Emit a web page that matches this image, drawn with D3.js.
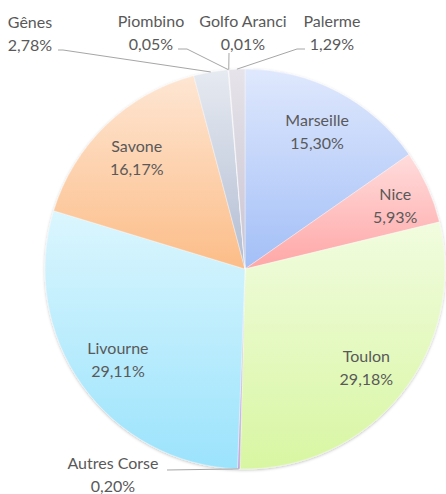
<!DOCTYPE html>
<html>
<head>
<meta charset="utf-8">
<script src="https://d3js.org/d3.v7.min.js"></script>
<style>
  body { margin: 0; background: #fff; }
  text { font-family: Lato, "Open Sans", sans-serif; font-size: 16px; fill: #595959; }
</style>
</head>
<body>
<svg id="canvas"></svg>
<script>
// data, clockwise from 12 o'clock
var ports = ["Marseille", "Nice", "Toulon", "Autres Corse", "Livourne", "Savone", "Gênes", "Piombino", "Golfo Aranci", "Palerme"];
var shares = [15.30, 5.93, 29.18, 0.20, 29.11, 16.17, 2.78, 0.05, 0.01, 1.29];
var topColors = ["#dfe8fd", "#ffdcdc", "#f1fcdf", "#d7c8ea", "#dbf6fe", "#fee6d3", "#e6eaf1", "#e8e4ec", "#e8e4ec", "#e6e3ea"];
var bottomColors = ["#a3bff7", "#ffa6a6", "#d8f6a2", "#c0a8dc", "#9be3fc", "#fcbd88", "#b2bdd3", "#cbc5d3", "#cbc5d3", "#c9c3d1"];

var width = 446, height = 494;
var cx = 245, cy = 269, radius = 200;

var svg = d3.select("#canvas").attr("width", width).attr("height", height);
var defs = svg.append("defs");

var shadow = defs.append("filter").attr("id", "shadow")
  .attr("x", "-10%").attr("y", "-10%").attr("width", "120%").attr("height", "120%");
shadow.append("feDropShadow").attr("dx", 0).attr("dy", 1).attr("stdDeviation", 1.4)
  .attr("flood-color", "#000").attr("flood-opacity", 0.25);

ports.forEach(function(p, i) {
  var g = defs.append("linearGradient").attr("id", "grad" + i)
    .attr("x1", 0).attr("y1", 0).attr("x2", 0).attr("y2", 1);
  g.append("stop").attr("offset", "0%").attr("stop-color", topColors[i]);
  g.append("stop").attr("offset", "100%").attr("stop-color", bottomColors[i]);
});

var pie = d3.pie().sort(null).value(function(d) { return d; });
var arcs = pie(shares);
var arc = d3.arc().innerRadius(0).outerRadius(radius);
var labelArc = d3.arc().innerRadius(156).outerRadius(156);

var pieG = svg.append("g").attr("transform", "translate(" + cx + "," + cy + ")");

pieG.append("g").attr("filter", "url(#shadow)")
  .selectAll("path").data(arcs).enter().append("path")
  .attr("d", arc)
  .attr("fill", function(d, i) { return "url(#grad" + i + ")"; })
  .attr("stroke", "#ffffff")
  .attr("stroke-opacity", 0.6)
  .attr("stroke-width", 0.6);

function fmt(v) { return v.toFixed(2).replace(".", ",") + "%"; }

// labels inside the big slices
var inside = ["Marseille", "Nice", "Toulon", "Livourne", "Savone"];
arcs.forEach(function(d, i) {
  if (inside.indexOf(ports[i]) < 0) return;
  var c = labelArc.centroid(d);
  if (ports[i] == "Nice") c = [c[0] + 8, c[1]];
  var t = pieG.append("text").attr("text-anchor", "middle")
    .attr("transform", "translate(" + c[0] + "," + c[1] + ")");
  t.append("tspan").attr("x", 0).attr("y", -5).text(ports[i]);
  t.append("tspan").attr("x", 0).attr("y", 18).text(fmt(shares[i]));
});

// labels outside with leader lines (label centre, elbow points in page coords)
var outside = {
  "Gênes":        { x: 30,  y: 28,  leader: [[58, 50], [63, 50]] },
  "Piombino":     { x: 151, y: 27,  leader: [[178, 49], [187, 49]] },
  "Golfo Aranci": { x: 243, y: 27,  leader: [[229, 53]] },
  "Palerme":      { x: 332, y: 27,  leader: [[305, 49], [297, 49]] },
  "Autres Corse": { x: 113, y: 469, leader: [[167, 470]] }
};

arcs.forEach(function(d, i) {
  var o = outside[ports[i]];
  if (!o) return;
  var mid = (d.startAngle + d.endAngle) / 2;
  var p = [cx + radius * Math.sin(mid), cy - radius * Math.cos(mid)];
  var pts = o.leader.concat([p]);
  svg.append("path")
    .attr("d", d3.line()(pts))
    .attr("fill", "none")
    .attr("stroke", "#a6a6a6")
    .attr("stroke-width", 1);
  var t = svg.append("text").attr("text-anchor", "middle");
  t.append("tspan").attr("x", o.x).attr("y", o.y).text(ports[i]);
  t.append("tspan").attr("x", o.x).attr("y", o.y + 23).text(fmt(shares[i]));
});
</script>
</body>
</html>
